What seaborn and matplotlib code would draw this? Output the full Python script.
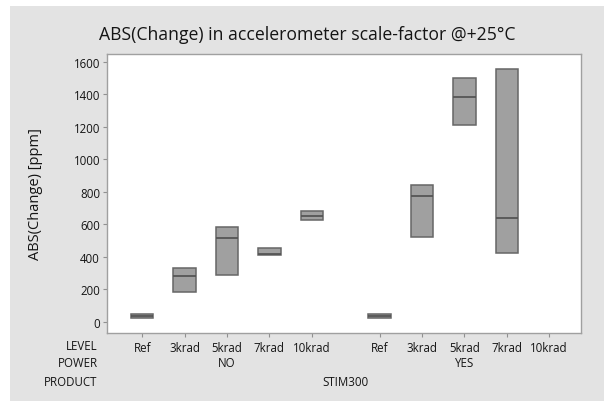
import numpy as np
import pandas as pd
import seaborn as sns
import matplotlib.pyplot as plt
from matplotlib.patches import Rectangle
from matplotlib.transforms import blended_transform_factory

levels = ['Ref', '3krad', '5krad', '7krad', '10krad']
powers = ['NO', 'YES']
product = 'STIM300'

# three samples per cell (min, median, max); no data for 10krad / YES
low_no = [22, 185, 288, 408, 628]
mid_no = [33, 280, 513, 418, 652]
high_no = [45, 328, 581, 453, 679]
low_yes = [22, 520, 1210, 423]
mid_yes = [33, 776, 1381, 638]
high_yes = [45, 843, 1500, 1555]

group_gap = 0.6
rows = []
for g, (lo, md, hi) in enumerate([(low_no, mid_no, high_no), (low_yes, mid_yes, high_yes)]):
    for i in range(len(lo)):
        pos = i + g * (len(levels) + group_gap)
        # with n=3 Minitab's quartiles fall on min and max
        for v in (lo[i], lo[i], md[i], hi[i], hi[i]):
            rows.append({'pos': pos, 'ppm': v})
df = pd.DataFrame(rows)

sns.set_style('white')
plt.rcParams['font.family'] = ['Open Sans', 'DejaVu Sans']
txt = '#151515'
small = 8.3

fig = plt.figure(figsize=(6.08, 4.02), dpi=100, facecolor='white')
fig.patches.append(Rectangle((10 / 608, 0), 594 / 608, 1 - 7 / 402, transform=fig.transFigure,
                             facecolor='#e3e3e3', edgecolor='none', zorder=-1))
ax = fig.add_axes([107 / 608, 1 - 334 / 402, 474 / 608, 279 / 402])

sns.boxplot(data=df, x='pos', y='ppm', native_scale=True, width=0.53, color='#a0a0a0',
            linecolor='#666666', linewidth=1.1, showcaps=False, whis=0, showfliers=False,
            medianprops={'color': '#555555', 'linewidth': 1.3}, ax=ax)

ticks = [i + g * (len(levels) + group_gap) for g in range(len(powers)) for i in range(len(levels))]
ax.set_xticks(ticks, levels * len(powers))
ax.set_xlim(-0.83, 10.35)
ax.set_ylim(-70, 1647)
ax.set_yticks(range(0, 1601, 200))
ax.tick_params(bottom=True, left=True, length=3, width=0.8, color='#909090',
               labelsize=small, labelcolor=txt, pad=2)
ax.tick_params(axis='x', pad=2.5)
for s in ax.spines.values():
    s.set_color('#a0a0a0')
    s.set_linewidth(1)

ax.set_xlabel('')
ax.set_ylabel('ABS(Change) [ppm]', fontsize=10.5, color=txt)
ax.yaxis.set_label_coords(-0.135, 0.5)

tr = blended_transform_factory(ax.transData, ax.transAxes)
for g, p in enumerate(powers):
    ax.text(2 + g * (len(levels) + group_gap), -0.1075, p, transform=tr,
            ha='center', va='center', fontsize=small, color=txt)
ax.text((ticks[0] + ticks[-1]) / 2, -0.174, product, transform=tr,
        ha='center', va='center', fontsize=small, color=txt)
for name, y in [('LEVEL', -0.046), ('POWER', -0.1075), ('PRODUCT', -0.174)]:
    ax.text(-0.0196, y, name, transform=ax.transAxes, ha='right', va='center',
            fontsize=small, color=txt)

fig.text(307 / 608, 1 - 35 / 402, 'ABS(Change) in accelerometer scale-factor @+25°C',
         ha='center', va='center', fontsize=12.7, color=txt)

fig.savefig('out.png', dpi=100, facecolor=fig.get_facecolor())
